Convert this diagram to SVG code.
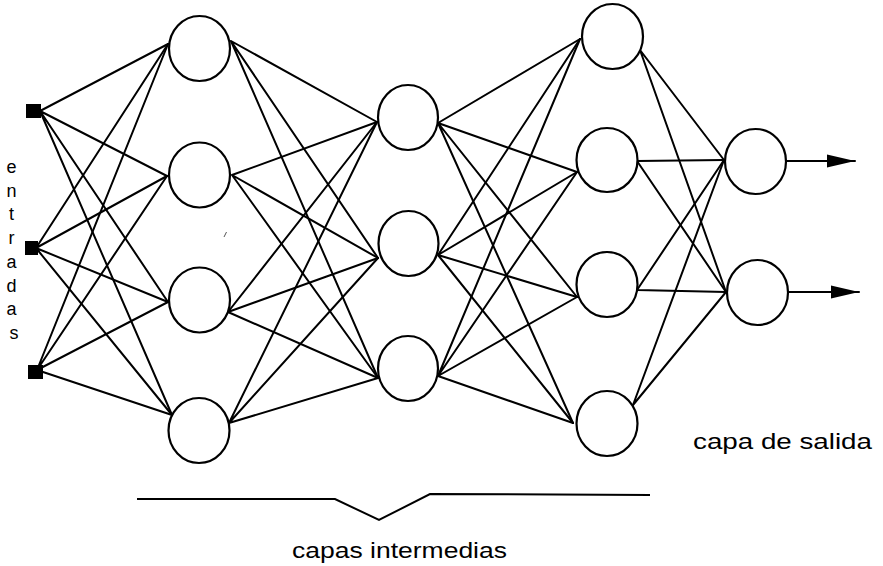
<svg xmlns="http://www.w3.org/2000/svg" width="883" height="566" viewBox="0 0 883 566">
  <defs>
    <style>
      .node { fill: #fff; stroke: #000; stroke-width: 2.2; }
      .inp { fill: #000; }
      .edge { stroke: #000; stroke-width: 2; fill: none; stroke-linecap: round; }
      .lbl { font-family: "Liberation Sans", Arial, sans-serif; fill: #000; }
    </style>
    <marker id="arrow" markerUnits="userSpaceOnUse" markerWidth="29" markerHeight="14" refX="28" refY="7" orient="auto">
      <path d="M0,0.5 L28,7 L0,13.5 z" fill="#000"/>
    </marker>
  </defs>
  <rect width="883" height="566" fill="#fff"/>

  <g id="connectors">
    <!-- inputs to layer 1 -->
    <path class="edge" d="M40,111 L168,44 M40,111 L167,176 M40,111 L168,302 M40,111 L172,415"/>
    <path class="edge" d="M36,248 L168,44 M36,248 L167,176 M36,248 L168,302 M36,248 L172,415"/>
    <path class="edge" d="M37,370 L168,44 M37,370 L167,176 M37,370 L168,302 M37,370 L172,415"/>
    <!-- layer 1 to layer 2 -->
    <path class="edge" d="M231,41 L377,122 M231,41 L378,258 M231,41 L378,378"/>
    <path class="edge" d="M232,175 L377,122 M232,175 L378,258 M232,175 L378,378"/>
    <path class="edge" d="M228,312 L377,122 M228,312 L378,258 M228,312 L378,378"/>
    <path class="edge" d="M229,423 L377,122 M229,423 L378,258 M229,423 L378,378"/>
    <!-- layer 2 to layer 3 -->
    <path class="edge" d="M438,123 L580,39 M438,123 L577,172 M438,123 L577,297 M438,123 L573,423"/>
    <path class="edge" d="M438,255 L580,39 M438,255 L577,172 M438,255 L577,297 M438,255 L573,423"/>
    <path class="edge" d="M438,376 L580,39 M438,376 L577,172 M438,376 L577,297 M438,376 L573,423"/>
    <!-- layer 3 to output -->
    <path class="edge" d="M640,50 L724,160 M640,50 L726,292"/>
    <path class="edge" d="M637,161 L724,160 M637,161 L726,292"/>
    <path class="edge" d="M637,290 L724,160 M637,290 L726,292"/>
    <path class="edge" d="M633,405 L724,160 M633,405 L726,292"/>
    <!-- outputs -->
    <line class="edge" x1="786" y1="161" x2="855" y2="161" marker-end="url(#arrow)"/>
    <line class="edge" x1="788" y1="292" x2="859" y2="292" marker-end="url(#arrow)"/>
  </g>

  <g id="in1"><rect class="inp" x="26" y="104" width="15" height="14"/></g>
  <g id="in2"><rect class="inp" x="25" y="241" width="13" height="14"/></g>
  <g id="in3"><rect class="inp" x="28" y="365" width="15" height="14"/></g>

  <g id="h1a"><ellipse class="node" cx="199.5" cy="48.5" rx="30.5" ry="32.5"/></g>
  <g id="h1b"><ellipse class="node" cx="199.5" cy="175" rx="30.5" ry="32.5"/></g>
  <g id="h1c"><ellipse class="node" cx="199.5" cy="300" rx="30.5" ry="32.5"/></g>
  <g id="h1d"><ellipse class="node" cx="199" cy="430.5" rx="30.5" ry="32.5"/></g>

  <g id="h2a"><ellipse class="node" cx="408" cy="117.5" rx="30" ry="32.5"/></g>
  <g id="h2b"><ellipse class="node" cx="408.5" cy="243.5" rx="30" ry="32.5"/></g>
  <g id="h2c"><ellipse class="node" cx="408" cy="368.5" rx="30" ry="32.5"/></g>

  <g id="h3a"><ellipse class="node" cx="612.5" cy="36.5" rx="30.5" ry="32.5"/></g>
  <g id="h3b"><ellipse class="node" cx="607" cy="160" rx="30.5" ry="32"/></g>
  <g id="h3c"><ellipse class="node" cx="607" cy="284.5" rx="30.5" ry="32.5"/></g>
  <g id="h3d"><ellipse class="node" cx="607" cy="423.5" rx="30.5" ry="32.5"/></g>

  <g id="out1"><ellipse class="node" cx="755.5" cy="161.5" rx="30.5" ry="32.5"/></g>
  <g id="out2"><ellipse class="node" cx="757.5" cy="292.5" rx="30.5" ry="32.5"/></g>

  <g id="labels">
    <text class="lbl" font-size="18" text-anchor="middle">
      <tspan x="14" y="173">e</tspan>
      <tspan x="14" y="197">n</tspan>
      <tspan x="14" y="220">t</tspan>
      <tspan x="14" y="244">r</tspan>
      <tspan x="14" y="268">a</tspan>
      <tspan x="14" y="292">d</tspan>
      <tspan x="14" y="315">a</tspan>
      <tspan x="14" y="339">s</tspan>
    </text>
    <text class="lbl" font-size="22" x="693" y="449" textLength="179" lengthAdjust="spacingAndGlyphs">capa de salida</text>
    <text class="lbl" font-size="22" x="292" y="558" textLength="215" lengthAdjust="spacingAndGlyphs">capas intermedias</text>
  </g>

  <g id="brace">
    <polyline points="137,499 335,499 379,520 430,494 650,495" fill="none" stroke="#000" stroke-width="2"/>
  </g>
  <line x1="224" y1="237" x2="226.5" y2="232" stroke="#555" stroke-width="1"/>
</svg>
